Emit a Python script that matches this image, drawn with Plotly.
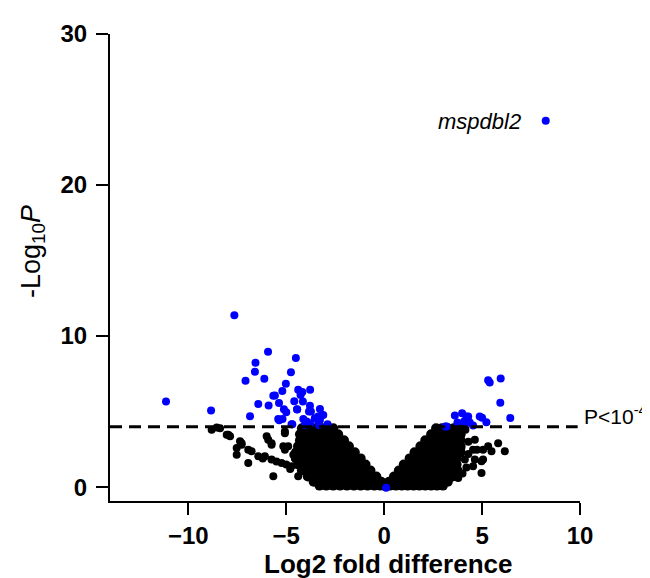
import plotly.graph_objects as go

# dense cloud (y level -> x positions)
left_rows_y = [3.9, 3.5, 3.1, 2.7, 2.3, 1.9, 1.5, 1.1, 0.7, 0.35, 0.1]
left_rows_x = [
    [-4.2, -3.85, -3.5, -3.15, -2.85, -2.6],
    [-4.3, -3.95, -3.6, -3.25, -2.9, -2.6, -2.35],
    [-4.3, -3.95, -3.6, -3.25, -2.9, -2.55, -2.25, -2.05],
    [-4.4, -4.05, -3.7, -3.35, -3.0, -2.65, -2.3, -2.0, -1.8],
    [-4.5, -4.15, -3.8, -3.45, -3.1, -2.75, -2.4, -2.05, -1.75, -1.5],
    [-4.5, -4.15, -3.8, -3.45, -3.1, -2.75, -2.4, -2.05, -1.7, -1.45, -1.2],
    [-4.4, -4.05, -3.7, -3.35, -3.0, -2.65, -2.3, -1.95, -1.6, -1.25, -0.95],
    [-4.2, -3.85, -3.5, -3.15, -2.8, -2.45, -2.1, -1.75, -1.4, -1.05, -0.7],
    [-3.9, -3.55, -3.2, -2.85, -2.5, -2.15, -1.8, -1.45, -1.1, -0.75, -0.4],
    [-3.6, -3.25, -2.9, -2.55, -2.2, -1.85, -1.5, -1.15, -0.8, -0.45, -0.15],
    [-3.3, -2.95, -2.6, -2.25, -1.9, -1.55, -1.2, -0.85, -0.5, -0.2, 0.0],
]
right_rows_y = [3.9, 3.5, 3.1, 2.7, 2.3, 1.9, 1.5, 1.1, 0.7, 0.35, 0.1]
right_rows_x = [
    [2.65, 2.95, 3.25, 3.55, 3.85],
    [2.4, 2.7, 3.0, 3.3, 3.6, 3.9],
    [2.1, 2.4, 2.7, 3.0, 3.3, 3.6, 3.9],
    [1.85, 2.15, 2.45, 2.75, 3.05, 3.35, 3.65, 3.9],
    [1.55, 1.85, 2.15, 2.45, 2.75, 3.05, 3.35, 3.65, 3.9],
    [1.3, 1.6, 1.9, 2.2, 2.5, 2.8, 3.1, 3.4, 3.7],
    [1.0, 1.3, 1.6, 1.9, 2.2, 2.5, 2.8, 3.1, 3.4, 3.7],
    [0.75, 1.05, 1.35, 1.65, 1.95, 2.25, 2.55, 2.85, 3.15, 3.45, 3.75],
    [0.5, 0.8, 1.1, 1.4, 1.7, 2.0, 2.3, 2.6, 2.9, 3.2, 3.5],
    [0.25, 0.55, 0.85, 1.15, 1.45, 1.75, 2.05, 2.35, 2.65, 2.95, 3.25],
    [0.3, 0.6, 0.9, 1.2, 1.5, 1.8, 2.1, 2.4, 2.7, 3.0],
]

# scattered non-significant genes
ns_x = [-8.81, -8.55, -8.38, -8.04, -7.87, -7.96, -7.36, -7.28, -7.28, -7.53, -7.53,
        -6.94, -6.77, -6.43, -6.94, -6.0, -5.92, -5.75, -5.75, -5.66, -5.07, -4.9,
        -5.07, -4.56, -4.39, -5.75, -5.24, -4.73, -6.09, -5.15, -4.64, -5.07, -6.2,
        -5.5, -5.0, -4.8,
        4.63, 5.82, 6.16, 5.48, 5.05, 4.54, 4.63, 5.05, 4.12, 4.54, 4.97, 3.78, 3.94,
        3.94, 4.12, 4.74, 4.15, 4.3, 4.3, 4.2, 4.0, 5.31, 4.97]
ns_y = [3.79, 3.95, 3.9, 3.46, 3.36, 3.46, 3.03, 2.8, 2.91, 2.59, 2.15,
        2.47, 2.37, 2.04, 1.6, 3.36, 3.13, 2.8, 2.91, 0.72, 3.57, 2.7,
        2.47, 1.93, 0.72, 1.82, 1.6, 1.38, 2.04, 2.7, 2.15, 3.68, 1.9,
        1.7, 1.5, 1.2,
        3.13, 2.91, 2.37, 2.37, 2.47, 2.47, 1.82, 1.82, 1.82, 1.38, 0.94, 0.61, 2.59,
        3.46, 3.9, 2.47, 3.79, 3.0, 2.2, 1.3, 0.9, 2.7, 1.71]

# significant genes (P < 1e-4)
sig_x = [-7.65, -11.14, -8.84, -5.93, -6.57, -4.51, -6.6, -7.08, -6.12, -4.76,
         -5.02, -5.2, -5.58, -5.66, -4.39, -4.18, -3.78, -4.27, -6.43, -5.9,
         -5.37, -4.59, -4.15, -4.45, -5.12, -5.0, -3.79, -3.74, -3.28, -3.11,
         -3.37, -6.85, -5.41, -5.19, -4.73, -4.13, -4.05, -3.79, -3.37, -2.89,
         -5.36, -4.44, -3.28, -3.54, -4.69, -3.96, -3.33, -3.84, 0.1,
         5.31, 5.39, 5.95, 5.93, 6.44, 4.88, 5.22, 4.29, 3.13, 3.61, 3.98,
         4.2, 3.74, 4.08, 4.54, 5.0, 3.18, 4.37, 8.25]
sig_y = [11.38, 5.66, 5.07, 8.97, 8.24, 8.55, 7.63, 7.04, 7.17, 7.61,
         6.84, 6.36, 6.07, 6.05, 6.45, 6.29, 6.45, 6.09, 5.5, 5.41,
         5.57, 5.68, 5.66, 5.15, 5.15, 4.95, 5.39, 5.0, 5.17, 4.78,
         4.67, 4.69, 4.51, 4.51, 4.16, 4.51, 4.12, 4.23, 4.34, 4.16,
         4.43, 5.13, 4.45, 4.56, 4.16, 4.34, 4.12, 5.0, -0.05,
         7.08, 6.93, 7.19, 5.59, 4.58, 4.67, 4.3, 4.67, 4.01, 4.74, 4.89,
         4.67, 4.28, 4.34, 4.08, 4.6, 4.01, 4.28, 24.25]

cutoff = 4
x_ticks = [-10, -5, 0, 5, 10]
y_ticks = [0, 10, 20, 30]

font = "Arial, Liberation Sans, sans-serif"

dx, dy = [], []
for y, xs in zip(left_rows_y + right_rows_y, left_rows_x + right_rows_x):
    dx += xs
    dy += [y] * len(xs)

fig = go.Figure()
# the dense part is drawn with slightly bigger dots so it reads as one solid mass
fig.add_trace(go.Scatter(x=dx, y=dy, mode="markers", marker=dict(color="black", size=10),
                         hoverinfo="skip", showlegend=False))
fig.add_trace(go.Scatter(x=ns_x, y=ns_y, mode="markers", marker=dict(color="black", size=8),
                         hoverinfo="skip", showlegend=False))
fig.add_trace(go.Scatter(x=sig_x, y=sig_y, mode="markers", marker=dict(color="#0000ff", size=8),
                         showlegend=False))

# significance threshold
fig.add_shape(type="line", xref="paper", yref="y", x0=0, x1=0.995, y0=cutoff, y1=cutoff,
              line=dict(color="black", width=3, dash="12px,7px"), layer="above")

fig.add_annotation(x=1.005, xref="paper", y=cutoff, yref="y", text="P<10<sup>-4</sup>",
                   showarrow=False, xanchor="left", yanchor="bottom", yshift=-3,
                   font=dict(family=font, size=21, color="black"))
fig.add_annotation(x=7.1, y=24.2, text="<i>mspdbl2</i>", showarrow=False,
                   xanchor="right", yanchor="middle",
                   font=dict(family=font, size=22, color="black"))
fig.add_annotation(x=0.2, xref="x", y=0, yref="paper", yshift=-46, text="<b>Log2 fold difference</b>",
                   showarrow=False, xanchor="center", yanchor="top",
                   font=dict(family=font, size=26, color="black"))
fig.add_annotation(x=-0.164, xref="paper", y=0.535, yref="paper", textangle=-90,
                   text="-Log<sub>10</sub><i>P</i>", showarrow=False,
                   xanchor="center", yanchor="middle",
                   font=dict(family=font, size=27, color="black"))

axis_common = dict(showline=True, linecolor="black", linewidth=2, ticks="outside",
                   ticklen=12, tickwidth=2, tickcolor="black", showgrid=False,
                   zeroline=False, tickfont=dict(family=font, size=24, color="black", weight="bold"))
fig.update_xaxes(range=[-14, 10], tickvals=x_ticks, **axis_common)
fig.update_yaxes(range=[-0.92, 30], tickvals=y_ticks, ticklabelstandoff=4, **axis_common)

fig.update_layout(width=650, height=578, plot_bgcolor="white", paper_bgcolor="white",
                  margin=dict(l=102, r=78, t=23, b=85))

fig.write_html("out.html")
